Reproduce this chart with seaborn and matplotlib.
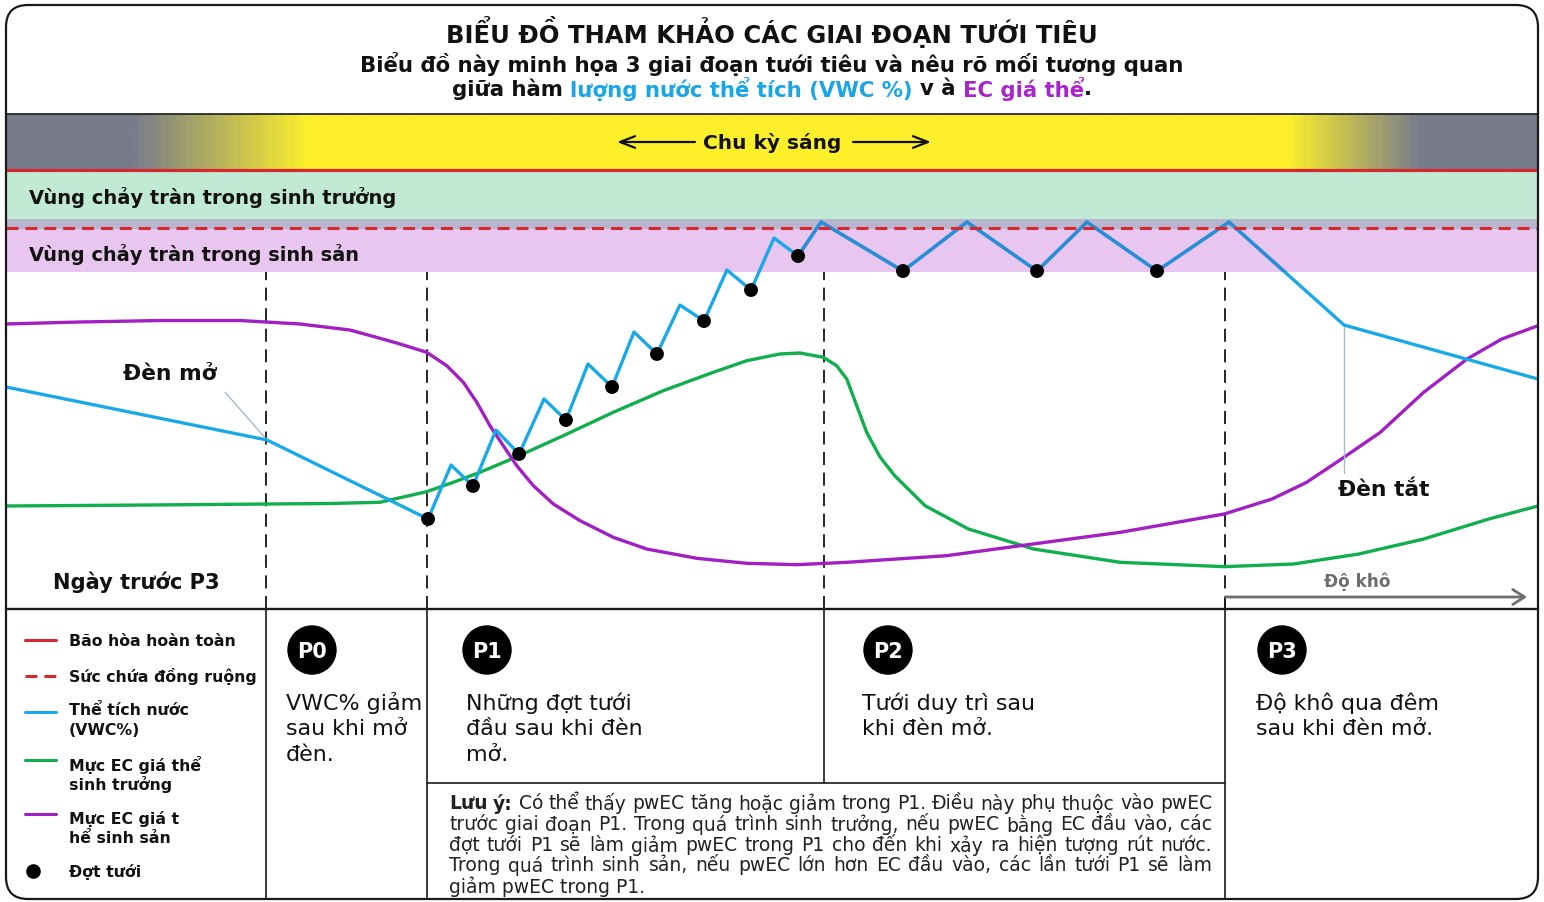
import numpy as np
import seaborn as sns
import matplotlib
matplotlib.use("Agg")
import matplotlib.pyplot as plt
from matplotlib.colors import LinearSegmentedColormap
from matplotlib.patches import FancyBboxPatch, Circle, Rectangle

# time axis 0-100 (share of the cycle shown), level axis 0-100
vwc_x = [0.0, 17.04, 27.55, 29.05, 30.48, 31.98, 33.49, 35.12, 36.55, 37.99, 39.56, 40.99,
         42.49, 43.99, 45.56, 47.06, 48.63, 50.13, 51.70, 53.20, 58.55, 62.73, 67.30, 70.56,
         75.13, 79.83, 87.34, 100.0]
vwc_y = [44.85, 34.14, 18.18, 29.09, 24.85, 36.16, 31.31, 42.42, 38.18, 49.49, 44.85, 55.96,
         51.52, 61.41, 58.18, 68.48, 64.44, 74.95, 71.31, 78.18, 68.28, 78.18, 68.28, 78.18,
         68.28, 78.18, 57.37, 46.46]

# irrigation shots
irr_x = [27.55, 30.48, 33.49, 36.55, 39.56, 42.49, 45.56, 48.63, 51.70, 58.55, 67.30, 75.13]
irr_y = [18.18, 24.85, 31.31, 38.18, 44.85, 51.52, 58.18, 64.44, 71.31, 68.28, 68.28, 68.28]

# substrate EC, generative steering
ec_gen_x = [0.0, 4.83, 10.05, 15.27, 19.19, 22.45, 24.41, 25.72, 27.46, 28.77, 29.85, 30.73,
            31.59, 32.46, 33.34, 34.42, 35.73, 37.47, 39.64, 41.82, 45.09, 48.35, 51.61,
            54.88, 61.40, 66.21, 72.73, 79.52, 82.64, 84.90, 87.17, 89.71, 92.54, 95.37,
            97.64, 100.0]
ec_gen_y = [57.58, 57.98, 58.28, 58.28, 57.58, 56.36, 54.69, 53.54, 51.86, 49.15, 45.80, 41.76,
            37.03, 32.99, 28.95, 24.91, 21.21, 17.84, 14.48, 12.12, 10.24, 9.23, 8.95,
            9.43, 10.77, 12.79, 15.49, 19.19, 22.22, 25.60, 30.30, 35.70, 43.78, 50.51,
            54.55, 57.23]

# substrate EC, vegetative steering
ec_veg_x = [0.0, 9.40, 17.04, 21.15, 24.41, 27.46, 29.20, 30.94, 33.11, 36.38, 39.64, 42.90,
            46.17, 48.35, 50.52, 51.83, 53.35, 54.22, 54.88, 55.53, 56.18, 57.05, 58.01,
            59.99, 62.82, 67.07, 72.73, 79.52, 84.05, 88.30, 92.54, 96.79, 100.0]
ec_veg_y = [20.81, 21.01, 21.21, 21.31, 21.56, 23.70, 25.60, 27.62, 30.44, 35.01, 39.74, 44.10,
            47.82, 50.16, 51.52, 51.72, 50.85, 49.15, 46.46, 41.07, 35.70, 30.71, 26.93,
            20.87, 16.16, 12.12, 9.43, 8.55, 9.09, 11.11, 14.14, 18.18, 20.81]

saturation = 88.6
field_capacity = 77.0
phase_x = [17.0, 27.5, 53.4, 79.6]
phase_names = ["P0", "P1", "P2", "P3"]
phase_desc = [["VWC% giảm", "sau khi mở", "đèn."],
              ["Những đợt tưới", "đầu sau khi đèn", "mở."],
              ["Tưới duy trì sau", "khi đèn mở."],
              ["Độ khô qua đêm", "sau khi đèn mở."]]
legend_labels = [["Bão hòa hoàn toàn"], ["Sức chứa đồng ruộng"], ["Thể tích nước", "(VWC%)"],
                 ["Mực EC giá thể", "sinh trưởng"], ["Mực EC giá t", "hể sinh sản"], ["Đợt tưới"]]
note_lines = ["Lưu ý: Có thể thấy pwEC tăng hoặc giảm trong P1. Điều này phụ thuộc vào pwEC",
              "trước giai đoạn P1. Trong quá trình sinh trưởng, nếu pwEC bằng EC đầu vào, các",
              "đợt tưới P1 sẽ làm giảm pwEC trong P1 cho đến khi xảy ra hiện tượng rút nước.",
              "Trong quá trình sinh sản, nếu pwEC lớn hơn EC đầu vào, các lần tưới P1 sẽ làm",
              "giảm pwEC trong P1."]

red = "#d7282f"
blue = "#1aa9e8"
blue_dark = "#2a8dd6"
green = "#10ae4c"
purple = "#a11fc3"
ink = "#111111"

sns.set_theme(style="white")
plt.rcParams["font.family"] = ["DejaVu Sans"]
plt.rcParams["lines.scale_dashes"] = False
plt.rcParams["lines.solid_joinstyle"] = "round"

fig = plt.figure(figsize=(15.44, 9.03), dpi=100)
fig.patch.set_facecolor("white")
R = fig.canvas.get_renderer()

# chart area
ax = fig.add_axes([6 / 1544, 293 / 903, 1532 / 1544, 495 / 903], zorder=1)
ax.patch.set_alpha(0)

light = LinearSegmentedColormap.from_list(
    "light", [(0, "#777b8c"), (0.08, "#777b8c"), (0.197, "#fdf02a"),
              (0.838, "#fdf02a"), (0.926, "#777b8c"), (1, "#777b8c")])
ax.imshow(np.linspace(0, 1, 600)[None, :], extent=[0, 100, saturation, 100],
          aspect="auto", cmap=light, interpolation="bilinear", zorder=0)
ax.axhspan(78.8, saturation, color="#c0ead4", lw=0, zorder=0)
ax.axhspan(76.8, 78.8, color="#b8b6ce", lw=0, zorder=0)
ax.axhspan(68.1, 76.8, color="#e8c6f0", lw=0, zorder=0)
ax.axhline(saturation, color=red, lw=2.3, zorder=1)

for v in phase_x:
    ax.plot([v, v], [0, 68.1], color="black", lw=1.2, dashes=(9.4, 5.4), zorder=1)

sns.lineplot(x=ec_veg_x, y=ec_veg_y, ax=ax, color=green, lw=2.4, sort=False, zorder=2)
sns.lineplot(x=ec_gen_x, y=ec_gen_y, ax=ax, color=purple, lw=2.4, sort=False, zorder=2)
sns.lineplot(x=vwc_x, y=vwc_y, ax=ax, color=blue, lw=2.4, sort=False, zorder=3)
# maintenance part inside the overflow band is drawn darker
dark = ax.plot(vwc_x[18:], vwc_y[18:], color=blue_dark, lw=2.4, zorder=3.1)[0]
dark.set_clip_path(Rectangle((vwc_x[18], 68.1), 100, 40, transform=ax.transData))
ax.axhline(field_capacity, color=red, lw=2.2, dashes=(8.6, 5), zorder=3.5)
sns.scatterplot(x=irr_x, y=irr_y, ax=ax, color="black", s=100, edgecolor="none", zorder=4)

# lights on / off pointers
ax.plot([14.3, vwc_x[1]], [43.8, vwc_y[1]], color="#a9b9c9", lw=1)
ax.plot([vwc_x[-2], vwc_x[-2]], [27.5, vwc_y[-2]], color="#a9b9c9", lw=1)

ax.set_xlim(0, 100)
ax.set_ylim(0, 100)
ax.axis("off")

# layout layer in pixels
lay = fig.add_axes([0, 0, 1, 1], zorder=2)
lay.set_xlim(0, 1544)
lay.set_ylim(903, 0)
lay.axis("off")

col = [ax.transData.transform((v, 0))[0] for v in phase_x]


def fit_size(s, width, size=12, **kw):
    t = lay.text(0, 0, s, fontsize=size, **kw)
    w = t.get_window_extent(R).width
    t.remove()
    return size * width / w


def txt(x, y, s, size=12, width=None, **kw):
    if width:
        size = fit_size(s, width, size, **kw)
    return lay.text(x, y, s, fontsize=size, va="center", **kw)


def adv(s, size, weight):
    a = lay.text(0, 0, s + "|", fontsize=size, fontweight=weight)
    b = lay.text(0, 0, "|", fontsize=size, fontweight=weight)
    w = a.get_window_extent(R).width - b.get_window_extent(R).width
    a.remove()
    b.remove()
    return w


def rich(xc, y, pieces, size, weight):
    ws = [adv(s, size, weight) for s, c in pieces]
    x = xc - sum(ws) / 2
    for (s, c), w in zip(pieces, ws):
        lay.text(x, y, s, color=c, fontsize=size, fontweight=weight, va="center")
        x += w


lay.add_patch(FancyBboxPatch((6, 6), 1532, 894, boxstyle="round,pad=0,rounding_size=22",
                             fc="none", ec="#1a1a1a", lw=1.6, zorder=5))
lay.plot([6, 1538], [114.5, 114.5], color="#1a1a1a", lw=1.2)
lay.plot([6, 1538], [610, 610], color="#1a1a1a", lw=1.7)
lay.plot([col[1], col[3]], [784, 784], color="#1a1a1a", lw=1.2)
lay.plot([col[0], col[0]], [610, 900], color="#1a1a1a", lw=1.2)
lay.plot([col[1], col[1]], [610, 900], color="#1a1a1a", lw=1.2)
lay.plot([col[2], col[2]], [610, 784], color="#1a1a1a", lw=1.2)
lay.plot([col[3], col[3]], [598, 900], color="#1a1a1a", lw=1.2)

# header
txt(772, 32, "BIỂU ĐỒ THAM KHẢO CÁC GIAI ĐOẠN TƯỚI TIÊU", 16, 651, ha="center",
    fontweight="bold", color=ink)
sub = txt(772, 64, "Biểu đồ này minh họa 3 giai đoạn tưới tiêu và nêu rõ mối tương quan",
          13, 820, ha="center", fontweight="bold", color=ink)
rich(772, 89, [("giữa hàm ", ink), ("lượng nước thể tích (VWC %) ", "#19a5e6"),
               ("v à ", ink), ("EC giá thể", "#a825cc"), (".", ink)],
     sub.get_fontsize(), "bold")

txt(772, 143, "Chu kỳ sáng", 13, 137, ha="center", fontweight="bold", color=ink)
for x0, x1 in [(695, 617), (853, 931)]:
    lay.annotate("", xy=(x1, 143), xytext=(x0, 143),
                 arrowprops=dict(arrowstyle="->,head_length=0.9,head_width=0.35",
                                 lw=1.6, color=ink, shrinkA=0, shrinkB=0))

txt(29, 198, "Vùng chảy tràn trong sinh trưởng", 12, 365, fontweight="bold", color=ink)
txt(29, 255, "Vùng chảy tràn trong sinh sản", 12, 329, fontweight="bold", color=ink)
txt(170, 374, "Đèn mở", 13, 93, ha="center", fontweight="bold", color=ink)
txt(1384, 490, "Đèn tắt", 13, 91, ha="center", fontweight="bold", color=ink)
txt(53, 582, "Ngày trước P3", 13, 166, fontweight="bold", color=ink)
txt(1357, 582, "Độ khô", 11, 66, ha="center", fontweight="bold", color="#6d6d6d")
lay.annotate("", xy=(1527, 598), xytext=(col[3], 598),
             arrowprops=dict(arrowstyle="->,head_length=0.7,head_width=0.45",
                             lw=2, color="#6d6d6d", shrinkA=0, shrinkB=0))

# legend
leg_y = [641, 677, 713, 761, 815, 872]
leg_text_y = [642, 677, 711, 765, 819, 872]
leg_fs = fit_size(legend_labels[1][0], 186, 11, fontweight="bold")
lay.plot([25, 56], [leg_y[0]] * 2, color=red, lw=2.2)
lay.plot([25, 56], [leg_y[1]] * 2, color=red, lw=2.2, dashes=(8.6, 5))
lay.plot([25, 56], [leg_y[2]] * 2, color=blue, lw=2.2)
lay.plot([25, 56], [leg_y[3]] * 2, color=green, lw=2.2)
lay.plot([25, 56], [leg_y[4]] * 2, color=purple, lw=2.2)
lay.plot([33], [leg_y[5]], "o", color="black", ms=9.5)
for i, lines in enumerate(legend_labels):
    for j, s in enumerate(lines):
        txt(69, leg_text_y[i] + 19.5 * j, s, leg_fs, fontweight="bold", color=ink)

# phases
circle_x = [312, 487, 888, 1282]
desc_x = [286, 466, 862, 1256]
desc_fs = fit_size(phase_desc[3][0], 183, 13)
for cx, dx, name, lines in zip(circle_x, desc_x, phase_names, phase_desc):
    lay.add_patch(Circle((cx, 651), 24, color="black"))
    txt(cx, 652, name, 15, ha="center", color="white", fontweight="bold")
    for j, s in enumerate(lines):
        txt(dx, 703 + 26 * j, s, desc_fs, color=ink)

# note, justified like the original
note_y = [804, 825, 845.5, 866, 887]
note_fs = fit_size(note_lines[-1], 196, 11)
for i, line in enumerate(note_lines):
    if i == len(note_lines) - 1:
        txt(449, note_y[i], line, note_fs, color="#222222")
        continue
    ts = []
    for j, w in enumerate(line.split()):
        wt = "bold" if (i == 0 and j < 2) else "normal"
        ts.append(txt(0, note_y[i], w, note_fs, fontweight=wt, color="#222222"))
    ws = [t.get_window_extent(R).width for t in ts]
    gap = (1212 - 449 - sum(ws)) / (len(ts) - 1)
    x = 449
    for t, w in zip(ts, ws):
        t.set_x(x)
        x += w + gap

fig.savefig("out.png", dpi=100, facecolor="white")
